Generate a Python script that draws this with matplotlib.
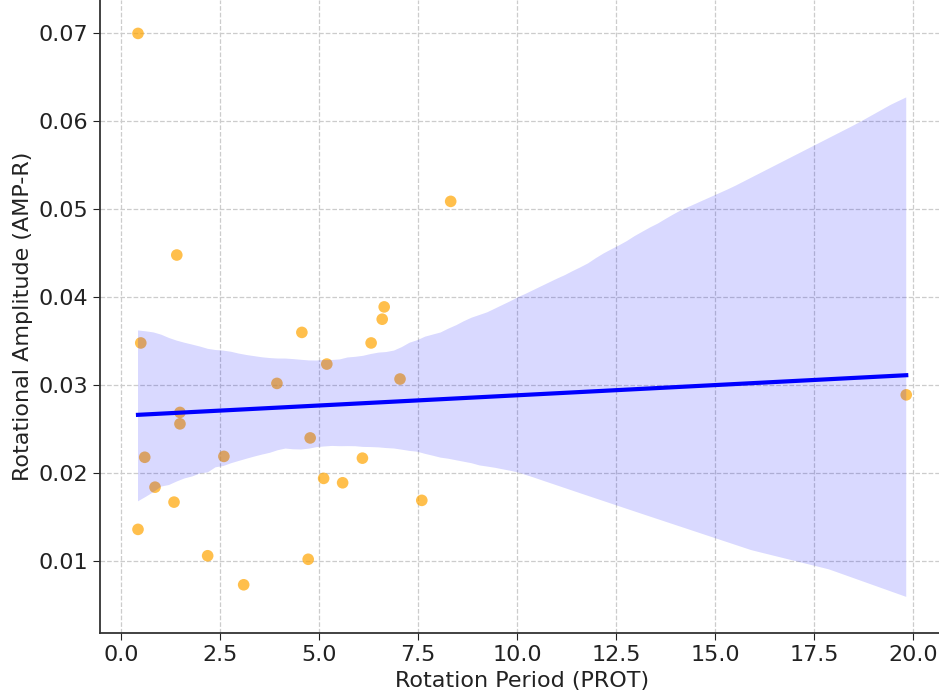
import matplotlib
matplotlib.use("Agg")
import matplotlib.pyplot as plt
import seaborn as sns
from seaborn import algorithms as algo
import numpy as np

prot = [0.42, 0.49, 1.40, 0.42, 0.59, 0.85, 1.33, 1.48, 1.48, 2.18, 2.59, 3.09,
        3.93, 4.56, 4.77, 4.72, 5.19, 5.11, 5.59, 6.09, 6.31, 6.59, 6.64, 7.04,
        7.59, 8.32, 19.83]
amp_r = [0.0700, 0.0348, 0.0448, 0.0136, 0.0218, 0.0184, 0.0167, 0.0269, 0.0256,
         0.0106, 0.0219, 0.0073, 0.0302, 0.0360, 0.0240, 0.0102, 0.0324, 0.0194,
         0.0189, 0.0217, 0.0348, 0.0375, 0.0389, 0.0307, 0.0169, 0.0509, 0.0289]

x = np.array(prot)
y = np.array(amp_r)

# choose a bootstrap seed whose band resembles the reference's
X = np.c_[np.ones(len(x)), x]
ends = np.c_[np.ones(3), [x.min(), 5.0, x.max()]]
target = np.array([[0.017, 0.0222, 0.0050], [0.036, 0.0333, 0.0627]])
best, best_err = 0, np.inf
for sd in range(60):
    boots = algo.bootstrap(X, y, func=lambda _x, _y: np.linalg.pinv(_x).dot(_y),
                           n_boot=1000, seed=sd).T
    yb = ends.dot(boots).T
    band = np.percentile(yb, [2.5, 97.5], axis=0)
    err = np.abs(band - target).sum()
    if err < best_err:
        best, best_err = sd, err

fig, ax = plt.subplots(figsize=(9.39, 6.95), dpi=100)
sns.regplot(x=x, y=y, ax=ax, seed=best,
            scatter_kws=dict(color="orange", alpha=0.7, s=70, edgecolors="none"),
            line_kws=dict(color="blue", lw=3))
ax.grid(True, linestyle="--", color="#cccccc", linewidth=0.9)
ax.set_axisbelow(True)
for s in ["top", "right"]:
    ax.spines[s].set_visible(False)
for s in ["left", "bottom"]:
    ax.spines[s].set_color("#333333")
    ax.spines[s].set_linewidth(1.3)
ax.set_xlim(-0.54, 20.8)
ax.set_ylim(0.0018, 0.0738)
ax.tick_params(labelsize=16, colors="#222222", length=5)
ax.set_xlabel("Rotation Period (PROT)", fontsize=16, color="#222222")
ax.set_ylabel("Rotational Amplitude (AMP-R)", fontsize=16, color="#222222")
fig.subplots_adjust(left=0.1065, right=1.006, top=1.0, bottom=0.089)
fig.savefig("out.png", dpi=100)
